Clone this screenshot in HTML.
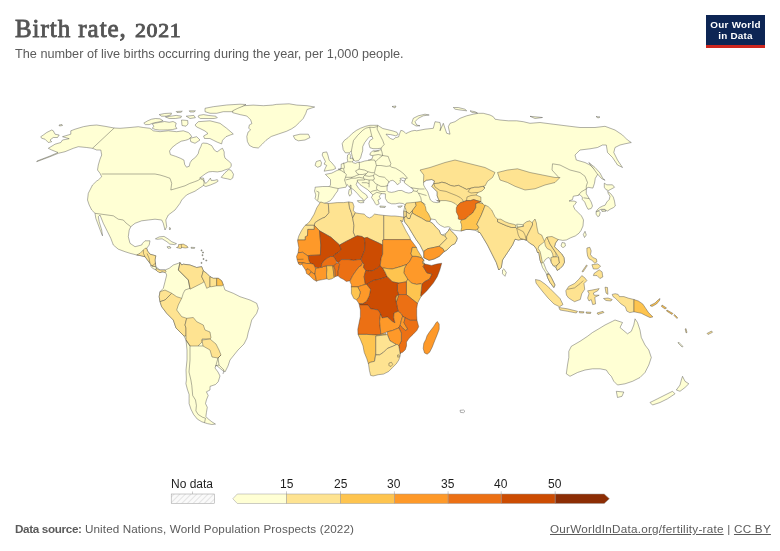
<!DOCTYPE html>
<html><head><meta charset="utf-8"><style>
html,body{margin:0;padding:0;background:#fff;width:780px;height:551px;overflow:hidden}
body{position:relative;font-family:"Liberation Sans",sans-serif}
.t,#logo{will-change:transform}
.t{position:absolute;white-space:nowrap;line-height:1}
svg{position:absolute;left:0;top:0}
#title{left:15px;top:16px;font-family:"Liberation Serif",serif;font-size:25px;color:#555;font-weight:normal;letter-spacing:0.95px;-webkit-text-stroke:0.85px #555}
#sub{left:15px;top:47.8px;font-size:12.7px;color:#5b5b5b}
#logo{position:absolute;left:706px;top:15px;width:59px;height:33px;background:#0d2554}
#logo .r{position:absolute;left:0;bottom:0;width:59px;height:3px;background:#ce261e}
#logo .l1,#logo .l2{position:absolute;width:59px;text-align:center;color:#fff;font-weight:bold;font-size:9.9px;line-height:1;letter-spacing:0.25px}
#logo .l1{top:4.6px}
#logo .l2{top:16.3px}
.lg{font-size:12px;color:#1e1e1e}
.ft{font-size:11.7px;color:#5b5b5b}
</style></head><body>
<div class="t" id="title">Birth rate, <span style="display:inline-block;font-size:18.5px;letter-spacing:0.6px;transform:scaleX(1.18);transform-origin:0 0;margin-left:0.5px">2021</span></div>
<div class="t" id="sub">The number of live births occurring during the year, per 1,000 people.</div>
<div id="logo"><div class="l1">Our World</div><div class="l2">in Data</div><div class="r"></div></div>
<svg width="780" height="551" viewBox="0 0 780 551">
<g fill="#ffffd4" stroke="#3a3a3a" stroke-width="0.4" stroke-linejoin="round">
<path d="M36.7,161.7 50.0,156.7 58.3,153.3 65.0,151.7 73.3,148.3 78.3,146.7 86.7,147.5 92.5,148.3 96.7,150.0 100.8,150.0 101.7,155.0 100.0,159.2 98.3,165.0 97.5,170.0 100.0,173.3 101.7,176.7 98.3,180.0 96.7,181.0 92.5,185.0 88.3,193.3 87.5,200.0 89.2,205.0 91.7,210.0 95.0,213.3 95.8,218.3 98.3,225.0 100.8,231.7 102.5,235.8 101.7,230.0 99.2,221.7 98.3,216.7 100.0,215.0 103.3,223.3 107.5,231.7 110.8,238.3 113.3,245.0 118.3,249.2 125.0,251.7 130.0,253.3 136.7,255.0 140.0,255.5 145.0,256.7 150.0,263.3 155.0,269.2 160.0,272.5 165.0,271.7 165.0,270.0 160.0,270.0 155.8,266.7 155.0,260.0 155.8,255.8 150.0,254.2 147.5,251.0 146.7,248.3 149.2,245.0 150.0,240.8 145.0,240.8 142.5,243.3 141.7,245.0 135.0,246.7 130.0,243.3 128.3,236.7 129.2,230.0 130.8,226.7 135.0,223.3 141.7,220.8 148.3,220.0 155.0,219.2 161.7,220.0 163.3,223.3 165.0,230.0 166.7,226.7 165.8,220.0 168.3,215.0 175.0,210.0 180.0,203.3 181.7,200.0 186.5,195.0 189.6,193.5 195.0,191.2 199.0,188.5 203.5,185.5 205.8,186.5 210.4,185.0 215.8,182.7 218.1,181.2 217.3,179.6 214.2,180.4 211.2,180.4 210.4,178.1 208.1,181.2 205.8,183.5 204.2,181.2 203.5,178.1 199.6,178.1 202.7,175.8 205.8,173.5 208.8,171.9 212.7,171.5 217.3,171.9 221.9,171.2 225.8,169.6 228.8,168.8 231.2,166.5 231.2,163.5 228.8,161.2 225.0,158.1 224.2,155.0 224.2,151.9 222.5,148.3 220.7,149.2 217.1,151.9 214.4,150.1 211.7,145.6 207.2,143.4 202.7,143.0 201.8,143.9 200.9,146.5 199.1,150.1 198.2,153.7 195.5,157.3 191.9,160.0 190.1,162.7 189.2,166.3 186.5,167.2 184.7,164.5 183.9,160.0 180.3,158.2 175.8,156.4 170.4,154.6 169.5,151.0 172.2,147.4 176.7,143.9 181.2,141.2 185.6,140.3 188.3,139.4 191.7,136.7 190.0,134.0 188.3,132.5 183.3,130.8 176.7,131.7 168.3,130.8 160.0,131.7 153.3,130.8 150.0,128.3 143.3,127.5 138.3,126.7 130.0,127.5 120.0,128.3 114.2,128.0 105.0,126.3 96.7,125.0 90.0,125.5 83.3,126.7 75.0,129.2 70.8,130.8 70.8,134.2 62.5,136.7 69.2,138.7 62.5,140.0 60.8,142.5 55.0,144.2 48.3,148.3 51.7,150.0 58.0,152.5 50.0,156.0 37.0,161.0Z"/>
<path d="M40.8,136.7 43.3,135.0 46.7,132.5 51.7,130.0 53.3,130.8 55.0,134.2 59.2,135.0 57.5,137.5 53.3,137.5 50.0,140.0 51.7,141.7 48.3,142.5 45.0,139.2 41.7,138.3Z"/>
<path d="M59.0,125.0 62.0,124.5 62.5,125.5 59.5,126.0Z"/>
<path d="M143.8,123.1 147.7,120.8 151.5,119.2 155.4,118.5 160.0,118.8 163.1,120.8 160.8,121.5 156.9,122.3 153.1,123.1 149.2,124.6 145.4,124.6Z"/>
<path d="M152.3,123.8 155.4,123.1 160.0,122.3 164.6,121.5 169.2,122.3 173.1,121.5 176.2,123.1 175.4,126.2 176.9,128.5 172.3,129.6 167.7,129.9 163.1,130.0 159.2,130.0 155.4,129.5 152.3,128.3 153.8,126.2Z"/>
<path d="M159.2,114.6 164.6,113.5 171.5,113.1 170.8,115.0 166.2,116.2 161.5,116.2Z"/>
<path d="M165.4,116.9 170.8,116.2 176.2,115.4 181.5,116.2 180.8,117.7 175.4,118.5 169.2,118.5Z"/>
<path d="M176.2,111.5 182.3,111.2 181.0,112.3 177.0,112.5Z"/>
<path d="M186.2,116.2 193.8,115.4 195.4,117.7 190.0,118.5Z"/>
<path d="M189.2,110.8 195.4,110.8 194.0,112.0 190.0,112.0Z"/>
<path d="M198.8,115.4 203.5,114.6 208.1,115.4 215.8,116.2 217.3,117.7 214.2,118.5 208.1,118.5 200.4,118.5 198.1,116.9Z"/>
<path d="M181.5,120.0 187.7,120.5 188.0,124.0 186.0,126.2 182.0,125.5Z"/>
<path d="M205.0,108.3 213.3,106.7 226.7,105.0 240.0,104.2 246.0,104.5 240.0,108.3 233.3,111.7 223.3,111.7 216.7,113.3 210.0,113.3 205.0,111.7Z"/>
<path d="M198.3,121.7 210.0,120.8 220.0,123.3 226.7,128.3 233.3,134.0 230.5,134.9 226.0,136.7 222.5,140.3 221.6,143.9 217.1,142.1 213.5,140.3 209.9,138.5 204.5,138.5 203.6,136.0 208.0,133.5 205.0,131.0 200.0,128.5 196.7,127.0 195.0,125.0Z"/>
<path d="M190.0,138.3 196.7,136.7 200.0,140.0 195.0,143.3 190.8,141.7Z"/>
<path d="M221.2,177.3 225.0,172.7 228.8,169.5 231.2,170.4 233.5,174.2 232.7,178.1 230.4,179.6 227.3,178.8 223.5,178.1Z"/>
<path d="M232.7,110.8 237.8,108.3 244.2,105.7 253.2,105.1 263.5,105.7 272.4,105.1 276.3,104.4 289.1,103.8 296.8,105.1 307.1,105.7 314.7,107.0 307.1,109.5 305.8,113.4 303.2,118.5 299.4,122.4 295.5,126.2 291.7,128.8 286.5,131.3 278.8,133.9 271.2,136.5 266.0,140.3 262.2,144.2 258.3,148.0 253.2,147.4 249.4,145.4 247.4,141.6 246.8,136.5 248.1,132.0 250.6,130.0 248.7,128.1 249.4,124.9 251.9,123.6 250.6,119.8 246.8,116.0 240.4,114.7 232.7,112.7Z"/>
<path d="M293.3,135.8 300.0,134.2 308.3,134.2 310.0,137.5 305.0,140.0 298.3,140.8 295.0,139.2Z"/>
<path d="M155.4,238.8 159.2,236.9 164.0,236.4 167.9,238.8 171.7,241.7 176.5,243.7 174.6,244.6 169.8,244.1 166.9,241.7 162.1,238.8 157.3,239.3Z"/>
<path d="M167.0,246.8 170.0,246.5 171.0,248.0 168.0,248.3Z"/>
<path d="M169.5,227.5 170.5,228.0 170.0,230.0 169.3,229.0Z"/>
<path d="M191.0,247.3 194.8,247.5 194.5,248.4 191.2,248.3Z"/>
<path d="M201.0,249.9 202.0,249.9 202.0,250.9 201.0,250.9Z"/>
<path d="M202.0,254.7 203.0,254.7 203.0,255.7 202.0,255.7Z"/>
<path d="M203.0,258.5 204.0,258.5 204.0,259.5 203.0,259.5Z"/>
<path d="M201.0,262.4 202.0,262.4 202.0,263.4 201.0,263.4Z"/>
<path d="M205.8,260.0 206.8,260.0 206.8,261.0 205.8,261.0Z"/>
<path d="M202.5,252.0 203.5,252.0 203.5,253.0 202.5,253.0Z"/>
<path d="M150.6,264.8 152.0,266.0 155.8,266.7 156.5,268.5 156.0,270.0 153.0,268.5 150.8,266.5Z"/>
<path d="M165.0,271.7 165.0,270.0 169.2,268.3 173.3,265.0 178.3,263.3 180.0,262.5 181.7,265.0 183.3,264.2 190.0,265.0 196.7,267.5 201.7,266.7 203.3,270.8 206.7,273.3 210.0,276.7 213.3,278.3 218.3,278.3 221.7,280.8 223.3,285.0 225.0,290.0 233.3,293.3 240.0,296.7 250.0,300.0 256.7,303.3 258.3,308.3 256.7,313.3 251.7,320.0 250.0,326.7 248.3,332.0 247.0,338.0 244.0,344.0 238.0,350.0 234.0,355.0 230.0,360.0 228.0,366.0 225.0,372.0 222.0,370.0 216.0,365.0 215.0,368.0 218.0,372.0 220.0,376.0 218.2,381.8 215.5,384.5 210.0,386.4 210.0,390.0 206.4,391.8 208.2,395.5 206.4,400.0 205.5,403.6 207.3,407.3 206.4,412.7 205.9,416.4 207.3,418.2 211.8,421.8 215.5,424.1 211.8,424.5 207.3,423.6 201.8,421.8 197.3,419.1 193.6,414.5 190.9,409.1 189.1,403.6 189.1,398.2 189.1,394.5 187.3,389.1 185.9,383.6 186.4,380.0 186.0,370.0 187.0,360.0 187.0,350.0 186.0,340.0 184.0,336.0 176.0,328.0 173.3,320.0 166.7,313.3 161.7,306.7 160.0,301.7 159.2,296.7 160.0,291.7 163.3,288.3 165.0,281.7 166.7,275.0Z"/>
<path d="M338.2,188.5 337.6,191.0 335.6,193.6 333.1,197.4 330.5,200.6 326.7,202.6 322.8,203.8 320.3,202.6 317.7,201.3 315.1,198.7 315.8,194.9 314.5,191.0 315.1,188.5 315.1,187.2 322.8,186.5 329.2,186.5 330.5,185.0 330.5,179.5 327.9,176.9 325.4,174.4 331.8,173.1 336.9,170.5 340.8,169.2 341.2,167.0 341.2,164.1 345.3,162.8 347.8,161.8 347.3,158.5 347.6,155.0 349.5,153.6 350.8,155.5 350.0,158.5 352.5,158.0 353.6,160.5 352.0,161.8 353.5,162.8 355.5,163.4 357.6,162.4 360.6,162.3 364.7,161.0 367.8,160.5 369.9,160.0 371.9,159.0 373.0,155.9 369.9,154.9 370.4,152.8 373.0,150.8 376.0,150.8 381.2,149.7 381.2,148.2 377.1,148.7 373.0,148.7 369.9,147.7 368.8,143.6 369.9,140.5 373.0,138.5 371.9,136.4 369.9,136.4 367.8,138.5 364.7,142.6 362.7,146.7 362.7,150.8 361.7,153.8 360.6,158.0 358.6,160.5 355.5,161.2 353.5,160.0 352.4,156.9 351.4,152.8 351.4,150.8 349.4,152.8 345.3,152.8 343.2,149.7 342.2,143.6 344.2,140.5 348.3,137.4 352.4,133.3 356.5,130.3 360.6,128.2 365.8,126.2 370.0,125.3 377.7,125.3 379.6,126.5 382.8,128.5 387.9,129.7 393.1,131.0 396.9,132.3 398.2,134.5 395.6,135.8 390.5,134.6 386.0,134.2 388.0,136.5 390.5,138.5 393.1,139.6 395.6,137.6 398.5,137.0 399.5,134.0 400.8,130.4 403.3,131.0 405.9,133.6 408.5,132.3 411.7,131.0 414.9,130.4 416.7,130.8 425.0,129.2 433.3,128.3 435.0,121.7 440.0,122.5 440.8,126.7 440.0,130.8 443.3,123.3 446.7,133.3 450.0,134.2 448.3,126.7 450.0,123.3 455.0,121.7 460.0,118.3 466.7,115.8 473.3,114.2 478.3,113.3 483.3,113.3 490.0,115.0 493.3,116.7 495.0,119.2 500.0,120.0 508.3,120.8 516.7,120.8 523.3,121.7 530.0,123.3 540.0,122.5 550.0,123.8 570.0,126.3 580.0,127.5 595.0,127.5 605.0,126.3 615.0,130.0 622.5,135.0 627.5,140.0 631.3,142.5 625.0,143.8 620.0,145.0 615.0,147.5 613.8,152.5 617.5,160.0 622.5,167.5 617.5,165.0 612.5,157.5 607.5,152.5 606.3,145.0 602.5,145.0 597.5,147.5 590.0,148.8 580.0,150.0 575.0,155.0 576.3,160.0 585.0,162.5 590.0,165.0 595.0,170.0 598.5,173.0 595.3,178.3 594.5,183.2 592.9,188.1 588.0,187.3 586.3,188.9 586.3,193.8 588.8,197.9 591.2,202.0 592.5,206.0 591.2,208.5 588.0,209.3 586.3,206.0 584.7,202.0 582.3,199.5 582.3,197.1 579.8,194.6 578.2,195.4 573.3,196.2 572.5,199.5 569.0,201.0 574.1,201.1 576.5,202.0 574.9,204.4 573.3,206.0 574.9,209.3 578.2,212.6 581.4,215.8 583.1,219.1 583.5,220.0 583.0,226.0 581.0,230.5 579.0,233.2 575.4,235.9 570.8,237.7 566.3,240.0 562.7,240.4 558.1,239.5 555.4,243.1 554.5,246.8 558.1,250.4 561.8,254.0 564.0,257.7 564.5,262.2 562.7,265.8 560.0,268.6 557.2,270.4 556.0,267.6 553.5,266.0 551.3,262.5 550.0,259.0 549.0,257.5 547.5,258.0 545.4,259.5 543.5,262.5 546.3,270.0 550.0,275.0 551.3,277.5 555.0,285.0 553.8,287.5 550.0,282.5 547.5,277.5 546.0,273.0 542.5,267.5 540.0,260.0 538.8,252.5 537.5,252.5 536.3,248.8 533.8,245.5 529.5,243.0 527.0,240.5 525.8,240.0 523.3,239.2 518.3,240.0 515.0,239.2 512.5,245.0 507.5,252.5 502.5,260.0 501.3,267.5 498.8,270.0 496.3,262.5 492.5,255.0 487.5,245.0 483.8,238.8 480.0,232.5 478.8,232.5 475.0,230.0 470.0,229.5 466.0,229.5 461.0,231.0 455.9,230.5 452.1,229.9 450.1,227.3 448.2,226.7 444.4,227.3 440.5,225.4 437.3,222.8 435.4,219.6 430.9,219.0 429.6,221.5 432.8,223.5 436.0,227.3 437.9,229.2 439.2,230.5 440.5,233.7 441.8,235.0 445.6,233.7 448.2,231.2 449.5,228.6 450.8,230.5 453.3,233.1 455.9,235.6 457.2,238.2 456.5,240.8 454.6,244.0 452.1,244.9 446.9,250.0 443.1,252.6 439.2,256.4 434.1,259.0 429.0,260.3 423.8,257.7 423.8,253.8 422.6,250.0 420.0,244.9 416.2,239.7 412.3,233.3 408.5,226.9 404.6,221.8 404.0,218.0 403.8,213.8 403.8,210.8 404.6,207.0 405.5,204.5 404.6,204.6 403.1,203.5 399.2,203.1 395.4,203.8 391.5,203.8 387.7,202.3 385.4,198.5 385.4,193.8 381.8,193.6 379.2,196.2 380.5,198.7 377.9,200.0 379.2,203.8 376.7,205.1 375.4,203.8 374.1,201.3 371.5,197.4 372.8,194.9 370.3,192.3 367.7,189.7 363.8,187.2 360.0,184.6 357.4,181.4 356.2,184.6 358.7,188.5 362.6,192.3 366.4,194.9 367.7,197.4 365.8,198.7 363.8,201.3 362.6,198.7 360.6,197.4 357.4,193.6 353.6,189.7 349.7,187.2 348.5,185.9 347.2,184.6 345.9,187.2 342.0,187.8Z"/>
<path d="M322.8,152.6 326.7,151.9 327.9,155.1 329.2,160.3 331.8,162.8 335.0,166.7 335.6,168.6 332.4,169.9 327.9,170.5 324.1,171.2 325.4,167.9 326.7,165.4 324.1,164.1 325.4,161.5 323.5,157.7 322.2,155.1Z"/>
<path d="M316.4,161.5 320.3,160.3 321.5,162.8 320.9,166.0 317.7,167.3 315.1,165.4 315.8,162.8Z"/>
<path d="M357.4,200.6 362.6,200.6 363.8,202.6 360.6,202.8 358.1,201.9Z"/>
<path d="M349.1,189.7 351.0,188.5 351.7,193.6 349.7,196.2 348.5,193.6Z"/>
<path d="M350.0,185.5 351.0,185.0 351.0,188.0 350.0,188.0Z"/>
<path d="M379.9,206.0 385.6,206.4 385.0,207.5 380.0,207.2Z"/>
<path d="M397.7,206.4 402.3,205.8 401.0,207.2 398.5,207.2Z"/>
<path d="M411.7,123.3 413.3,118.3 418.3,115.8 425.0,114.2 429.2,115.0 423.3,115.8 418.3,118.3 415.0,121.7 416.7,125.0 420.0,125.8 416.0,126.0Z"/>
<path d="M453.3,107.5 458.3,107.5 465.0,109.2 466.7,110.8 460.0,110.0 455.0,109.2Z"/>
<path d="M470.0,110.8 475.0,111.7 477.5,113.0 472.0,112.5Z"/>
<path d="M530.0,116.3 542.5,117.5 535.0,118.5Z"/>
<path d="M392.0,106.5 396.0,106.0 395.0,108.0Z"/>
<path d="M596.0,116.5 600.0,117.0 598.0,118.0Z"/>
<path d="M588.8,162.5 595.0,167.5 600.0,173.0 602.7,178.3 605.1,180.3 601.5,178.5 597.0,173.5 593.8,169.0Z"/>
<path d="M604.3,183.2 606.8,184.8 612.5,184.8 614.5,187.3 610.8,189.3 608.4,190.5 606.0,189.7 604.3,187.3Z"/>
<path d="M607.6,191.3 610.8,193.8 613.3,197.1 614.5,201.1 615.3,206.0 613.3,207.7 610.0,209.3 607.6,211.0 604.3,209.3 601.0,209.3 597.8,211.0 596.1,211.8 597.0,210.1 599.4,207.7 602.7,206.0 605.1,205.2 606.8,202.0 609.2,199.5 610.0,196.2 608.4,193.8Z"/>
<path d="M601.5,209.8 605.0,209.8 606.0,211.2 602.0,211.5Z"/>
<path d="M596.1,211.8 598.6,211.0 600.2,212.6 599.4,215.8 597.8,216.7 596.1,214.2Z"/>
<path d="M585.0,231.3 586.3,235.0 584.5,237.5 583.3,234.5Z"/>
<path d="M562.0,242.5 565.0,243.0 565.4,246.0 563.0,247.7 561.0,246.0Z"/>
<path d="M503.8,268.8 506.3,272.5 505.0,276.3 502.5,273.8 502.5,270.0Z"/>
<path d="M571.3,346.3 580.0,341.3 587.5,336.3 592.5,332.5 598.8,328.8 605.0,325.0 612.5,321.3 615.0,320.0 622.5,322.5 620.0,327.5 627.5,333.8 631.3,331.3 633.8,325.0 635.0,318.8 637.5,322.5 640.0,330.0 641.3,337.5 645.0,345.0 648.8,350.0 651.3,357.5 648.8,365.0 645.0,372.5 640.0,377.5 632.5,381.3 625.0,383.8 617.5,385.0 613.8,381.3 611.3,376.3 608.8,373.8 606.3,370.0 600.0,368.8 592.5,368.8 585.0,370.0 577.5,372.5 570.0,376.3 566.3,373.8 567.5,365.0 568.8,357.5 568.8,351.3Z"/>
<path d="M616.3,391.3 623.8,392.0 622.0,396.3 617.5,397.5Z"/>
<path d="M682.5,376.3 685.0,381.3 688.8,383.8 685.0,387.5 680.0,391.3 676.3,390.0 680.0,385.0 681.3,380.0Z"/>
<path d="M672.5,391.3 675.0,393.8 667.5,398.8 660.0,402.5 652.5,405.0 650.0,402.5 657.5,398.8 665.0,395.0Z"/>
<path d="M678.5,342.0 683.0,346.5 682.0,347.0 678.0,343.0Z"/>
</g>
<g fill="#fff" stroke="#3a3a3a" stroke-width="0.4" stroke-linejoin="round">
<path d="M387.1,186.0 388.3,182.8 390.3,180.9 392.8,180.3 395.4,182.2 397.3,184.7 399.2,183.5 400.5,182.2 399.9,180.3 401.8,179.6 404.4,180.3 404.4,182.8 406.9,184.7 410.1,187.0 412.7,188.6 413.3,190.5 412.0,192.4 408.8,193.1 405.6,192.4 401.8,190.5 398.6,190.5 394.7,191.8 391.5,192.4 388.3,191.8 387.1,190.5Z"/>
<path d="M400.0,178.5 403.0,177.8 405.5,179.0 404.8,181.0 402.0,180.5Z"/>
<path d="M423.6,182.3 426.3,180.2 431.8,179.5 434.5,180.9 433.8,183.6 431.8,186.3 434.5,189.1 437.2,191.8 437.2,195.9 438.6,199.3 439.9,202.0 437.2,202.7 433.1,202.0 430.4,200.0 429.0,195.9 427.7,191.8 425.0,187.7 423.6,185.0Z"/>
<path d="M460.0,410.3 463.5,410.0 465.0,411.3 463.5,412.7 460.5,412.4Z"/>
</g>
<g stroke="#3a3a3a" stroke-width="0.4" stroke-linejoin="round">
<path fill="#fee391" d="M178.5,244.6 183.3,244.1 187.1,246.1 188.1,247.5 185.2,248.0 182.3,247.5 180.4,248.5 176.5,247.5 178.5,246.5Z"/>
<path fill="#fee391" d="M136.7,255.0 140.0,253.3 143.3,250.0 145.0,248.3 146.7,248.3 147.5,251.0 150.0,254.2 155.8,255.8 155.0,260.0 155.8,266.7 152.0,266.0 150.0,263.3 145.0,256.7 140.0,255.5Z"/>
<path fill="#fee391" d="M156.3,268.0 158.0,269.5 160.0,270.0 165.0,270.0 166.0,271.5 165.0,272.5 162.0,271.5 160.0,272.8 157.5,271.5 156.0,270.0Z"/>
<path fill="#fee391" d="M180.0,262.5 181.7,265.0 183.3,264.2 190.0,265.0 196.7,267.5 201.7,266.7 203.3,270.8 201.7,276.7 204.2,281.7 201.7,283.3 195.0,286.7 190.0,289.2 188.3,280.0 183.3,275.0 178.3,270.0Z"/>
<path fill="#fee391" d="M203.3,270.8 206.7,273.3 210.0,276.7 210.0,286.7 206.7,288.3 204.2,281.7 201.7,276.7Z"/>
<path fill="#fee391" d="M210.0,276.7 213.3,278.3 216.7,278.3 216.7,285.8 211.7,286.7 210.0,286.7Z"/>
<path fill="#fec44f" d="M216.7,278.3 218.3,278.3 221.7,280.8 223.3,285.0 221.7,285.8 216.7,285.8Z"/>
<path fill="#fee391" d="M160.0,291.7 165.0,290.0 171.7,293.3 165.0,300.0 160.0,301.7 159.2,296.7Z"/>
<path fill="#fee391" d="M160.0,301.7 165.0,300.0 171.7,293.3 176.7,296.7 181.7,298.3 178.3,305.0 176.7,310.0 181.7,316.7 186.7,318.3 185.0,325.0 186.0,328.0 186.0,336.0 184.0,336.0 176.0,328.0 173.3,320.0 166.7,313.3 161.7,306.7Z"/>
<path fill="#fee391" d="M186.7,318.3 193.3,317.5 196.7,321.7 203.3,325.0 205.0,330.0 210.0,332.0 211.0,338.0 210.0,339.0 202.0,339.0 202.0,342.0 198.0,346.0 190.0,346.0 186.0,340.0 186.0,336.0 186.0,328.0 185.0,325.0Z"/>
<path fill="#fee391" d="M202.0,340.0 210.0,339.0 216.0,344.0 219.0,350.0 221.0,355.0 218.0,358.0 212.0,357.0 210.0,350.0 203.0,346.0Z"/>
<path fill="#fee391" d="M320.6,201.9 324.5,203.2 328.3,203.5 329.0,212.8 325.0,217.2 322.2,218.3 318.4,220.4 315.1,222.6 314.3,225.3 305.3,225.3 307.8,223.5 310.4,220.5 314.2,214.1 316.8,207.7Z"/>
<path fill="#fee391" d="M305.3,225.3 314.3,225.3 314.3,229.4 307.8,229.4 307.5,235.7 305.3,236.8 305.3,240.0 297.7,240.0 298.8,235.9 301.4,230.8 303.5,227.5Z"/>
<path fill="#fee391" d="M328.3,203.5 337.3,202.6 343.7,202.6 348.8,201.9 349.5,207.7 351.4,212.8 352.7,217.9 354.0,225.6 353.3,232.1 355.3,236.5 350.1,239.7 346.5,241.2 339.6,245.0 330.9,237.2 319.5,230.8 314.3,225.3 315.1,222.6 318.4,220.4 322.2,218.3 325.0,217.2 329.0,212.8Z"/>
<path fill="#fee391" d="M348.8,201.9 352.7,202.6 354.0,206.4 353.3,210.3 355.3,212.8 352.7,217.9 351.4,212.8 349.5,207.7Z"/>
<path fill="#fee391" d="M355.3,212.8 359.1,213.5 364.2,214.1 366.8,216.7 369.4,217.9 371.9,216.7 374.5,214.1 378.3,214.7 383.8,215.4 383.8,232.0 383.8,239.6 382.7,240.0 382.7,245.0 378.1,242.7 369.6,238.8 364.2,238.1 361.9,236.5 357.3,235.8 355.3,236.5 353.3,232.1 354.0,225.6 352.7,217.9Z"/>
<path fill="#fee391" d="M383.8,215.4 391.2,216.0 395.0,216.0 399.5,216.5 403.8,217.2 402.5,222.0 400.5,220.0 403.3,225.6 405.9,230.8 409.7,237.2 410.5,239.6 395.0,239.6 383.8,239.6 383.8,232.0Z"/>
<path fill="#fe9929" d="M297.7,240.0 305.3,240.0 305.3,236.8 307.5,235.7 307.8,229.4 314.3,229.4 314.3,225.3 319.5,230.8 320.8,245.0 320.4,255.0 310.4,255.4 308.1,255.8 306.5,255.0 302.7,252.3 298.1,252.7 298.8,247.4 297.6,241.0Z"/>
<path fill="#cc4c02" d="M319.5,230.8 330.9,237.2 339.6,245.0 341.2,249.6 338.1,252.7 335.0,254.2 333.5,256.5 330.4,256.5 327.3,258.1 324.2,260.4 321.9,263.5 321.2,267.3 318.1,268.1 315.0,267.3 313.5,264.2 310.4,263.5 308.8,260.4 308.1,255.8 310.4,255.4 320.4,255.0 320.8,245.0Z"/>
<path fill="#cc4c02" d="M339.6,245.0 346.5,241.2 352.7,238.1 357.3,235.8 361.9,236.5 364.2,238.1 365.0,242.7 364.6,250.4 362.7,255.0 361.2,258.8 361.2,259.6 358.1,259.6 353.5,260.4 348.8,259.6 344.2,259.6 341.2,259.6 339.6,261.5 338.1,262.7 336.5,261.2 335.0,258.8 333.5,256.5 335.0,254.2 338.1,252.7 341.2,249.6Z"/>
<path fill="#fe9929" d="M298.1,252.7 302.7,252.3 306.5,255.0 308.1,255.8 308.8,260.4 310.4,263.5 306.5,263.5 302.7,262.7 298.1,262.7 297.3,260.4 296.5,256.5Z"/>
<path fill="#fe9929" d="M298.1,262.7 302.7,262.7 301.9,264.2 300.4,265.0 298.8,264.2Z"/>
<path fill="#fe9929" d="M302.7,262.7 306.5,263.5 310.4,263.5 313.5,264.2 315.0,267.3 315.8,268.1 315.4,270.4 315.0,274.2 313.5,273.5 311.2,271.9 309.6,270.4 308.1,268.8 305.8,270.4 304.2,268.1 302.7,265.8 301.9,264.2Z"/>
<path fill="#fe9929" d="M305.8,270.4 308.1,268.8 309.6,270.4 311.2,271.9 308.8,275.0 306.5,273.5Z"/>
<path fill="#fe9929" d="M311.2,271.9 313.5,273.5 315.0,274.2 315.8,277.3 316.5,281.2 313.5,279.6 310.4,276.5 308.8,275.0Z"/>
<path fill="#fe9929" d="M315.8,268.1 318.1,268.1 321.2,267.3 321.9,267.3 323.5,266.5 326.5,265.8 326.9,269.6 326.5,274.2 326.9,278.8 322.7,279.6 318.1,280.4 316.5,281.2 315.8,277.3 315.0,274.2 315.4,270.4Z"/>
<path fill="#ec7014" d="M321.9,263.5 324.2,260.4 327.3,258.1 330.4,256.5 333.5,256.5 335.0,258.8 336.5,261.2 336.5,263.5 333.8,265.8 332.7,265.8 326.5,265.8 323.5,266.5 321.9,267.3 321.2,267.3Z"/>
<path fill="#fec44f" d="M326.5,265.8 332.7,265.8 333.1,268.1 333.5,271.9 334.2,277.3 331.9,278.8 328.8,279.6 326.9,278.8 326.5,274.2 326.9,269.6Z"/>
<path fill="#fe9929" d="M332.7,265.8 333.8,265.8 335.0,269.6 335.4,276.5 334.2,277.3 333.5,271.9 333.1,268.1Z"/>
<path fill="#ec7014" d="M333.8,265.8 336.5,263.5 338.1,262.7 339.6,264.2 338.8,268.1 338.1,271.2 338.1,275.8 335.4,276.5 335.0,269.6Z"/>
<path fill="#ec7014" d="M338.1,262.7 339.6,261.5 341.2,259.6 344.2,259.6 348.8,259.6 353.5,260.4 358.1,259.6 361.2,259.6 362.7,262.7 361.2,265.8 359.1,266.7 355.3,271.8 352.7,275.6 350.1,280.8 346.3,281.4 343.7,279.5 339.9,277.6 338.1,275.8 338.1,271.2 338.8,268.1 339.6,264.2Z"/>
<path fill="#fe9929" d="M362.7,262.7 364.2,264.2 363.5,267.3 365.8,270.4 364.1,276.7 365.4,284.4 361.5,285.6 357.7,286.9 351.3,286.9 351.4,284.6 350.1,282.1 350.1,280.8 352.7,275.6 355.3,271.8 359.1,266.7 361.2,265.8Z"/>
<path fill="#cc4c02" d="M364.2,238.1 367.3,237.3 369.6,238.8 378.1,242.7 382.7,245.0 382.7,254.2 381.2,258.1 380.4,264.2 380.4,265.8 377.3,268.1 373.5,270.4 369.6,271.2 365.8,270.4 363.5,267.3 364.2,264.2 362.7,262.7 361.2,259.6 361.2,258.8 362.7,255.0 364.6,250.4 365.0,242.7Z"/>
<path fill="#cc4c02" d="M365.8,270.4 369.6,271.2 373.5,270.4 377.3,268.1 380.4,265.8 382.7,268.1 385.0,271.9 387.2,276.7 379.5,279.2 373.1,280.5 366.7,284.4 365.4,284.4 364.1,276.7Z"/>
<path fill="#fe9929" d="M383.8,239.6 395.0,239.6 410.5,239.6 413.6,243.6 416.5,247.5 412.3,247.4 411.0,253.8 412.3,256.4 409.7,261.5 406.5,264.5 401.3,266.4 392.3,269.0 388.8,268.8 384.2,268.1 382.7,268.1 380.4,265.8 380.4,264.2 381.2,258.1 382.7,254.2 382.7,245.0 382.7,240.0Z"/>
<path fill="#fec44f" d="M416.5,247.5 417.4,250.0 420.6,255.1 423.8,260.3 421.3,257.7 416.2,256.4 412.3,256.4 411.0,253.8 412.3,247.4Z"/>
<path fill="#fee391" d="M423.8,260.3 423.8,262.8 425.0,264.0 423.0,264.0 422.5,261.5Z"/>
<path fill="#fe9929" d="M412.3,256.4 416.2,256.4 421.3,257.7 423.8,260.3 422.5,261.5 423.0,264.0 425.0,264.0 423.1,266.4 426.9,272.8 432.1,274.1 429.5,279.2 424.4,281.8 421.8,284.4 421.2,283.7 416.7,284.4 411.5,283.1 407.7,279.2 403.8,272.8 404.5,268.0 406.5,264.5 409.7,261.5Z"/>
<path fill="#cc4c02" d="M425.0,264.0 431.5,265.4 436.7,264.1 441.7,263.2 439.7,270.3 437.2,276.7 433.3,283.1 426.9,290.8 421.0,296.5 420.5,295.9 421.2,290.8 421.8,284.4 424.4,281.8 429.5,279.2 432.1,274.1 426.9,272.8 423.1,266.4Z"/>
<path fill="#fec44f" d="M382.7,268.1 384.2,268.1 388.8,268.8 392.3,269.0 401.3,266.4 406.5,264.5 404.5,268.0 403.8,272.8 407.7,279.2 406.4,281.8 398.7,283.1 392.3,281.8 387.2,276.7 385.0,271.9Z"/>
<path fill="#fec44f" d="M406.4,281.8 407.7,279.2 411.5,283.1 416.7,284.4 421.2,283.7 421.8,284.4 421.2,290.8 420.5,295.9 421.0,296.5 418.0,302.3 417.5,303.5 406.4,294.6Z"/>
<path fill="#ec7014" d="M398.7,283.1 406.4,281.8 406.4,294.6 398.7,294.6 397.4,290.8 397.4,284.4Z"/>
<path fill="#ec7014" d="M398.7,294.6 406.4,294.6 417.5,303.5 416.7,308.7 416.7,315.1 417.0,320.3 410.3,320.3 405.1,317.7 402.6,316.4 401.3,313.8 398.1,311.3 396.2,302.3Z"/>
<path fill="#fec44f" d="M396.2,295.9 398.7,294.6 396.2,302.3 395.6,299.0Z"/>
<path fill="#cc4c02" d="M366.7,284.4 373.1,280.5 379.5,279.2 387.2,276.7 392.3,281.8 398.7,283.1 397.4,284.4 397.4,290.8 398.7,294.6 396.2,295.9 395.6,299.0 396.2,302.3 398.1,311.3 394.0,313.0 393.7,317.7 395.0,322.8 392.4,321.5 387.3,317.0 382.1,318.0 380.5,314.0 378.2,310.0 370.5,308.7 367.9,304.9 360.3,304.9 359.0,303.6 362.8,303.6 366.7,301.0 369.2,295.9 370.5,289.5Z"/>
<path fill="#fe9929" d="M357.7,286.9 361.5,285.6 365.4,284.4 366.7,284.4 370.5,289.5 369.2,295.9 366.7,301.0 362.8,303.6 359.0,303.6 356.4,299.7 359.0,297.2 360.3,292.0Z"/>
<path fill="#fec44f" d="M351.3,286.9 357.7,286.9 360.3,292.0 359.0,297.2 356.4,299.7 353.8,298.5 351.4,293.6 351.4,288.5Z"/>
<path fill="#ec7014" d="M359.0,303.6 360.3,304.9 367.9,304.9 370.5,308.7 378.2,310.0 380.5,314.0 379.6,321.5 380.9,334.4 375.8,335.0 366.8,334.4 358.0,334.4 357.8,329.2 359.1,322.8 360.4,316.4 360.4,310.0 359.5,306.0Z"/>
<path fill="#fe9929" d="M380.5,314.0 382.1,318.0 387.3,317.0 392.4,321.5 395.0,322.8 393.7,317.7 394.0,313.0 398.1,311.3 401.3,313.8 402.6,316.4 401.4,320.3 400.1,325.4 398.8,327.9 392.4,330.5 387.3,331.8 380.9,334.4 379.6,321.5Z"/>
<path fill="#fe9929" d="M402.6,316.4 405.1,317.7 404.0,322.8 407.8,329.2 405.3,330.5 402.7,327.9 400.1,325.4 401.4,320.3Z"/>
<path fill="#ec7014" d="M405.1,317.7 410.3,320.3 417.0,320.3 418.7,326.7 416.8,330.5 413.0,334.4 409.1,338.2 406.5,342.1 406.5,345.9 405.3,349.7 402.7,352.3 400.5,353.0 400.1,353.6 398.8,345.9 401.4,340.8 401.4,333.1 398.8,327.9 400.1,325.4 402.7,327.9 405.3,330.5 407.8,329.2 404.0,322.8Z"/>
<path fill="#fe9929" d="M387.3,331.8 392.4,330.5 398.8,327.9 401.4,333.1 401.4,340.8 398.8,345.9 397.6,344.6 396.3,344.6 389.9,340.8 387.3,334.4Z"/>
<path fill="#fec44f" d="M358.0,334.4 366.8,334.4 375.8,335.0 380.9,334.4 386.0,333.5 386.0,334.8 375.8,336.0 375.8,352.3 374.5,361.3 369.4,362.6 368.5,364.0 366.8,358.7 364.2,352.3 363.0,345.9 360.4,339.5Z"/>
<path fill="#fee391" d="M375.8,336.0 386.0,334.8 387.3,334.4 389.9,340.8 396.3,344.6 393.7,345.9 387.3,348.5 383.5,352.3 379.6,354.9 375.8,354.9 375.8,352.3Z"/>
<path fill="#fee391" d="M368.5,364.0 369.4,362.6 374.5,361.3 375.8,354.9 379.6,354.9 383.5,352.3 387.3,348.5 393.7,345.9 396.3,344.6 397.6,344.6 398.8,345.9 400.1,353.6 400.5,353.0 400.1,356.2 398.8,360.0 396.3,363.8 392.4,367.7 388.6,371.5 383.5,374.1 378.3,374.7 373.2,376.0 370.6,375.4 369.4,370.3Z"/>
<path fill="#fe9929" d="M437.3,321.5 439.2,324.1 439.2,329.2 437.3,334.4 434.7,340.8 432.2,347.2 429.6,352.3 427.1,354.2 424.5,352.9 423.2,348.5 423.8,343.3 425.8,339.5 427.1,335.6 429.6,331.8 433.5,326.7 436.0,322.8Z"/>
<path fill="#fee391" d="M389.0,363.0 391.5,362.3 392.7,364.5 391.0,366.5 388.8,365.5Z"/>
<path fill="#fee391" d="M397.5,355.0 399.2,354.8 399.3,357.0 397.7,357.2Z"/>
<path fill="#fee391" d="M405.5,204.5 406.2,203.1 410.8,202.7 415.4,202.3 416.2,205.4 412.3,210.8 409.2,213.8 406.2,211.5 405.4,207.7 404.6,207.0Z"/>
<path fill="#fec44f" d="M415.4,202.3 420.8,201.5 423.8,203.8 425.5,206.9 426.2,210.8 428.5,213.8 430.9,219.0 429.6,221.5 426.5,221.2 421.4,218.1 416.3,215.5 412.3,213.0 412.3,210.8 416.2,205.4Z"/>
<path fill="#fee391" d="M406.2,211.5 409.2,213.8 412.3,210.8 412.3,213.0 410.8,215.4 410.0,218.5 407.7,218.5 406.2,216.2Z"/>
<path fill="#fee391" d="M403.8,210.8 405.4,211.5 406.2,211.5 406.2,216.2 404.6,216.9 404.0,218.0 403.8,213.8Z"/>
<path fill="#fee391" d="M407.7,218.5 410.0,218.5 410.8,215.4 412.3,213.0 416.3,215.5 421.4,218.1 426.5,221.2 429.6,221.5 432.8,223.5 436.0,227.3 437.9,229.2 439.2,230.5 440.5,233.7 441.8,235.0 445.0,236.0 446.9,238.5 439.2,246.2 434.1,247.4 427.7,248.7 423.8,251.3 422.6,250.0 420.0,244.9 416.2,239.7 412.3,233.3 408.5,226.9 404.6,221.8 404.0,218.0 406.2,216.2Z"/>
<path fill="#fe9929" d="M423.8,251.3 427.7,248.7 434.1,247.4 439.2,246.2 443.1,248.7 444.4,251.3 443.1,252.6 439.2,256.4 434.1,259.0 429.0,260.3 423.8,257.7 423.8,253.8Z"/>
<path fill="#fee391" d="M439.2,246.2 446.9,238.5 445.0,236.0 445.6,233.7 448.2,231.2 449.5,228.6 450.8,230.5 453.3,233.1 455.9,235.6 457.2,238.2 456.5,240.8 454.6,244.0 452.1,244.9 446.9,250.0 444.4,251.3 443.1,248.7Z"/>
<path fill="#fee391" d="M423.5,181.0 423.8,175.0 420.0,170.0 430.0,167.5 445.0,162.5 455.0,160.0 465.0,162.5 475.0,165.0 485.0,167.5 495.0,172.5 492.5,177.5 487.5,181.3 485.0,186.0 483.0,186.3 478.8,187.3 474.7,187.3 470.6,188.3 466.5,189.4 462.4,187.3 458.3,185.3 454.2,186.3 450.1,185.3 446.0,183.2 441.9,182.2 438.8,183.2 433.8,183.6 434.5,180.9 431.8,179.5 426.3,180.2 423.6,182.3Z"/>
<path fill="#fee391" d="M433.8,183.6 438.8,183.2 441.9,182.2 446.0,183.2 450.1,185.3 454.2,186.3 458.3,185.3 462.4,187.3 466.5,189.4 470.6,188.3 474.7,187.3 478.8,187.3 483.0,186.3 485.0,188.0 482.0,191.0 478.0,192.5 476.0,195.0 480.9,197.0 480.9,201.7 476.8,200.6 473.7,199.6 470.6,200.6 466.5,200.6 463.5,201.7 460.4,202.7 457.3,205.8 455.3,203.7 451.2,201.7 446.0,200.6 440.9,200.6 436.8,200.6 439.9,202.0 438.6,199.3 437.2,195.9 437.2,191.8 434.5,189.1 431.8,186.3Z"/>
<path fill="#ec7014" d="M457.3,205.8 460.4,202.7 463.5,201.7 466.5,200.6 470.6,200.6 473.7,199.6 476.8,200.6 480.9,201.7 478.8,202.7 475.8,203.7 475.8,207.8 472.7,213.0 468.6,216.0 465.5,219.1 461.4,220.1 458.3,219.1 458.3,216.0 456.3,211.9 456.3,207.8Z"/>
<path fill="#fec44f" d="M475.8,203.7 478.8,202.7 483.0,203.7 485.0,205.8 483.0,210.9 480.9,216.0 478.8,220.1 476.8,224.2 478.8,227.3 477.5,229.5 475.0,230.0 470.0,229.5 466.0,229.5 461.0,231.0 461.7,227.3 461.4,224.1 460.4,222.0 461.4,220.1 465.5,219.1 468.6,216.0 472.7,213.0 475.8,207.8Z"/>
<path fill="#fee391" d="M477.5,229.5 478.8,227.3 476.8,224.2 478.8,220.1 480.9,216.0 483.0,210.9 485.0,205.8 485.0,205.0 488.3,206.7 491.7,210.0 493.3,213.3 495.0,216.7 497.5,219.2 497.5,221.7 500.8,223.3 506.7,225.8 511.7,227.5 515.8,227.5 516.7,228.3 517.5,227.1 523.3,226.3 523.3,224.2 526.7,221.7 530.0,220.8 532.5,223.3 532.5,225.0 531.7,226.7 530.0,230.0 528.3,233.3 526.7,236.7 526.7,240.0 525.8,240.0 523.3,239.2 518.3,240.0 515.0,239.2 512.5,245.0 507.5,252.5 502.5,260.0 501.3,267.5 498.8,270.0 496.3,262.5 492.5,255.0 487.5,245.0 483.8,238.8 480.0,232.5 478.8,232.5Z"/>
<path fill="#fee391" d="M497.5,219.2 500.8,219.2 505.0,221.7 509.2,223.3 513.3,224.2 515.8,225.0 515.8,227.5 511.7,227.5 506.7,225.8 500.8,223.3 497.5,221.7Z"/>
<path fill="#fee391" d="M516.7,228.3 520.0,230.0 523.3,231.7 525.0,235.0 525.8,238.3 525.8,240.0 523.3,239.2 520.0,238.3 518.3,235.0 517.5,231.7Z"/>
<path fill="#fee391" d="M531.7,226.7 532.5,225.0 532.5,222.0 535.0,219.0 536.4,223.0 536.7,225.8 537.5,230.0 538.3,233.3 541.7,235.0 543.6,239.5 544.5,241.3 542.7,243.1 539.0,245.9 538.2,248.6 540.0,251.3 540.9,255.0 541.8,259.5 542.5,263.0 541.0,263.0 540.0,260.0 538.8,252.5 537.5,252.5 536.3,248.8 533.8,245.5 529.5,243.0 527.0,240.5 526.7,240.0 526.7,236.7 528.3,233.3 530.0,230.0Z"/>
<path fill="#fee391" d="M544.5,241.3 546.0,238.0 547.0,237.0 548.5,240.5 550.0,244.0 553.0,248.5 556.0,253.0 556.3,256.8 553.0,257.0 552.7,254.0 550.9,250.4 547.2,248.6 545.4,245.9Z"/>
<path fill="#fee391" d="M550.9,257.5 553.0,257.0 556.3,256.8 558.5,257.0 559.5,263.0 557.0,265.0 556.0,266.0 553.5,266.0 551.3,262.5Z"/>
<path fill="#fee391" d="M547.0,237.0 552.0,236.5 558.1,239.5 555.4,243.1 554.5,246.8 558.1,250.4 561.8,254.0 564.0,257.7 564.5,262.2 562.7,265.8 560.0,268.6 557.2,270.4 556.0,267.6 557.0,265.0 559.5,263.0 558.5,257.0 556.0,253.0 553.0,248.5 550.0,244.0 548.5,240.5Z"/>
<path fill="#fee391" d="M549.0,274.0 551.3,277.5 555.0,285.0 553.8,287.5 550.0,282.5 547.5,277.5 547.0,274.0Z"/>
<path fill="#fee391" d="M497.5,172.5 507.5,170.0 517.5,168.8 530.0,172.5 542.5,175.0 555.0,177.5 560.0,177.5 555.0,182.5 545.0,185.0 535.0,188.8 525.0,190.0 515.0,186.3 507.5,182.5 500.0,180.0Z"/>
<path fill="#fee391" d="M535.5,279.5 540.0,280.5 545.0,284.0 550.0,288.5 555.0,293.5 560.0,298.5 563.0,304.5 559.5,306.8 554.0,304.0 548.0,298.0 543.0,292.0 539.0,287.0 536.0,283.0Z"/>
<path fill="#fee391" d="M558.8,307.5 567.5,308.8 577.5,311.3 576.3,313.0 567.5,311.3 560.0,310.0Z"/>
<path fill="#fee391" d="M565.8,290.8 568.7,286.4 574.5,283.5 578.9,279.2 581.8,275.6 584.7,277.7 586.9,280.6 584.0,283.5 584.7,289.3 581.8,293.7 580.3,299.5 574.5,301.7 568.7,298.1 566.5,295.2Z"/>
<path fill="#fee391" d="M587.6,290.8 591.9,290.1 599.2,288.6 597.7,290.8 593.4,293.0 594.1,295.2 599.2,295.2 594.8,297.3 595.6,303.9 592.7,304.6 591.2,299.5 589.0,301.0 587.6,298.1 589.0,293.7Z"/>
<path fill="#fee391" d="M586.9,248.0 589.8,247.3 591.2,250.9 590.5,254.5 592.7,257.4 596.3,258.9 597.0,261.8 594.8,263.2 591.9,260.3 589.0,258.9 587.6,256.0 586.9,251.6Z"/>
<path fill="#fee391" d="M594.1,273.4 599.2,269.8 602.1,271.9 602.8,277.0 599.9,278.5 597.0,275.6 593.4,275.6Z"/>
<path fill="#fee391" d="M591.9,264.7 597.7,263.9 600.6,266.1 597.7,269.0 593.4,269.0Z"/>
<path fill="#fee391" d="M582.0,271.5 586.5,265.0 587.3,265.6 583.0,272.0Z"/>
<path fill="#fee391" d="M579.0,311.5 584.0,311.8 583.5,313.0 579.5,312.8Z"/>
<path fill="#fee391" d="M586.0,312.0 591.0,312.3 590.5,313.5 586.5,313.3Z"/>
<path fill="#fee391" d="M597.0,313.0 603.0,311.3 604.0,312.5 598.0,314.5Z"/>
<path fill="#fee391" d="M605.0,287.2 607.5,287.5 607.9,294.4 606.0,293.0 605.5,290.0Z"/>
<path fill="#fee391" d="M612.2,294.4 615.2,293.7 618.1,294.4 619.5,296.6 623.9,296.6 628.2,298.1 634.0,299.5 634.0,311.8 629.7,312.6 626.8,311.1 625.3,306.8 621.0,303.9 618.1,301.0 615.2,298.1 613.0,296.6Z"/>
<path fill="#fec44f" d="M634.0,299.5 638.4,301.0 642.7,303.9 645.6,308.2 648.5,312.6 652.9,316.9 650.0,317.6 645.6,315.5 641.3,313.3 634.0,311.8Z"/>
<path fill="#fec44f" d="M650.0,305.5 655.0,303.0 658.0,300.0 660.0,298.5 659.5,300.5 656.5,304.0 652.0,306.5Z"/>
<path fill="#fec44f" d="M662.0,305.0 666.5,308.0 665.0,309.0 661.5,306.5Z"/>
<path fill="#fec44f" d="M667.0,310.0 673.0,313.5 672.0,314.5 666.5,311.0Z"/>
<path fill="#fec44f" d="M674.5,314.5 677.5,317.5 677.0,318.5 674.0,315.5Z"/>
<path fill="#fee391" d="M686.0,328.5 687.0,332.5 686.0,332.8 685.2,329.0Z"/>
<path fill="#fee391" d="M707.0,333.5 711.5,331.0 712.5,332.3 708.0,334.5Z"/>
<path fill="#fee391" d="M603.5,298.5 608.0,298.0 612.2,299.5 611.0,301.0 606.0,300.5Z"/>
<path fill="#ffffd4" d="M516.7,224.2 522.5,224.6 523.3,226.3 517.5,227.1Z"/>
</g>
<g fill="none" stroke="#3a3a3a" stroke-width="0.4" stroke-linejoin="round">
<path d="M181.3,244.3 181.5,248.0"/>
<path d="M143.3,250.0 143.5,253.5 145.0,256.7"/>
<path d="M147.0,253.5 149.0,258.0 150.0,263.3"/>
<path d="M152.0,266.0 155.8,263.0"/>
<path d="M92.5,148.3 114.2,128.0"/>
<path d="M101.7,174.0 155.0,174.0 160.0,175.0 165.0,176.5 170.0,178.3 171.7,183.3 170.8,190.0 176.7,188.3 185.0,185.8 189.6,183.5 194.2,181.9 198.1,180.4 200.4,178.8 203.5,180.0 204.2,183.0 203.5,185.5"/>
<path d="M95.0,213.3 113.3,215.8 118.3,219.2 123.3,220.0 126.0,223.0 130.8,226.7"/>
<path d="M180.0,262.5 178.3,270.0 183.3,275.0 188.3,280.0 190.0,288.3 185.0,290.0 183.3,293.3 181.7,298.3"/>
<path d="M186.0,340.0 190.0,346.0 190.0,360.0 189.0,372.0 190.9,380.0 191.8,385.5 192.7,395.5 195.5,400.0 196.4,405.5 195.9,410.9 198.2,414.5 202.7,417.3 205.5,418.2"/>
<path d="M205.5,418.2 204.5,422.7"/>
<path d="M198.0,346.0 202.0,346.0 203.0,346.0"/>
<path d="M218.0,358.0 216.0,365.0"/>
<path d="M215.0,366.0 219.0,365.0 224.0,370.0 223.0,374.0"/>
<path d="M219.0,365.0 218.0,358.0 221.0,355.0"/>
<path d="M329.2,186.5 333.0,187.5 338.2,188.5"/>
<path d="M316.4,191.0 319.0,192.3 318.3,197.4 317.7,200.6"/>
<path d="M338.2,169.1 341.8,170.9 344.5,172.7 346.4,174.5 345.5,177.3 344.5,180.0 345.5,182.7 346.4,185.5"/>
<path d="M343.6,162.7 344.5,167.3 343.6,169.1"/>
<path d="M338.2,169.1 343.6,168.2"/>
<path d="M343.6,169.1 344.5,172.7"/>
<path d="M348.2,161.8 351.8,161.8"/>
<path d="M359.1,161.8 359.5,165.5 359.1,169.1"/>
<path d="M355.5,170.9 357.3,173.6 359.1,174.5"/>
<path d="M355.5,170.9 359.1,169.1 364.5,170.0 368.2,171.8"/>
<path d="M359.1,174.5 356.4,175.5 354.5,176.4 351.8,177.3 348.2,177.3 345.5,177.3"/>
<path d="M359.1,174.5 362.7,174.5 366.4,173.6 368.2,171.8"/>
<path d="M368.2,171.8 371.8,172.7 374.5,172.7"/>
<path d="M364.5,175.5 369.1,176.4 373.6,175.5 374.5,173.6"/>
<path d="M366.4,173.6 364.5,175.5 363.6,176.4 363.6,178.2"/>
<path d="M345.5,180.0 349.1,179.1 351.8,178.2 355.5,178.2 359.1,177.3 363.6,178.2"/>
<path d="M351.8,177.3 351.8,178.2"/>
<path d="M357.4,181.4 357.3,180.0 360.9,180.0 364.5,180.0 364.5,179.1 369.1,180.0 372.7,180.0"/>
<path d="M363.6,178.2 364.5,179.1"/>
<path d="M361.8,182.7 366.4,182.7 369.1,183.6 369.1,187.3"/>
<path d="M369.1,180.0 369.1,183.6"/>
<path d="M373.6,175.5 373.6,176.4 374.5,179.1 372.7,180.0 375.5,183.6 377.3,184.5"/>
<path d="M377.3,184.5 380.9,186.4 384.5,186.4 388.2,185.5"/>
<path d="M377.3,184.5 376.4,188.2 377.3,190.0 372.8,191.0 370.3,192.3"/>
<path d="M377.3,190.0 380.0,191.5 385.6,191.5"/>
<path d="M372.8,194.9 376.7,192.3 381.8,193.6"/>
<path d="M374.5,173.6 379.1,176.4 384.5,177.3 386.4,179.1 388.2,180.9 389.1,182.7"/>
<path d="M374.5,172.7 375.5,168.2 376.4,165.5 375.5,161.8 374.5,160.0 368.2,160.0"/>
<path d="M376.4,165.5 380.9,165.5 386.4,166.4 390.0,165.9 391.8,167.3 395.5,168.2 400.0,170.9 404.0,174.0 407.4,178.2 404.9,178.8"/>
<path d="M390.0,165.9 390.9,163.6 389.1,159.1 388.2,156.4"/>
<path d="M375.5,161.8 379.1,158.2 382.7,155.5 388.2,156.4"/>
<path d="M372.7,155.5 378.2,154.5 382.7,155.5"/>
<path d="M373.6,151.8 379.1,150.9"/>
<path d="M381.2,149.7 382.0,152.0 382.7,155.5"/>
<path d="M351.4,150.8 352.4,145.6 353.5,140.5 357.6,135.4 362.7,130.3 365.8,128.2 369.9,127.2"/>
<path d="M371.9,136.4 370.9,132.3 369.9,128.2 369.9,127.2 374.0,127.5 377.4,126.5"/>
<path d="M377.7,125.3 377.1,129.1 379.6,134.2 382.8,140.6 384.2,144.5 382.2,146.7 381.2,148.2"/>
<path d="M297.3,259.4 303.5,259.2"/>
<path d="M558.8,177.5 552.0,170.0 552.5,163.8 560.0,165.0 570.0,170.0 580.0,172.5 585.0,176.3 587.5,182.5 586.3,186.0 586.3,188.9"/>
<path d="M578.2,195.4 581.0,192.0 586.3,188.9"/>
<path d="M583.5,197.8 589.2,198.6"/>
<path d="M483.0,186.3 485.0,188.0"/>
<path d="M480.9,201.7 483.0,203.7"/>
<path d="M421.5,201.5 420.8,197.7 419.2,194.6 418.5,193.1"/>
<path d="M413.1,190.8 416.9,191.5 418.5,193.1 423.0,194.5 426.5,195.5"/>
<path d="M410.8,187.7 415.0,188.3 420.0,189.0 424.5,189.0"/>
<path d="M416.9,191.5 418.0,189.5"/>
<path d="M421.4,201.7 425.5,204.7"/>
<path d="M436.8,200.6 435.8,199.6"/>
<path d="M439.9,190.4 446.0,191.4 451.2,193.5 456.3,195.5 460.4,197.6 462.4,199.6 463.5,201.7"/>
<path d="M433.8,183.6 435.0,187.0 439.9,190.4"/>
<path d="M466.5,200.6 467.0,197.0 471.0,195.5 476.0,195.0"/>
<path d="M470.6,188.3 468.0,191.5 471.0,193.0 476.0,192.5 478.0,192.5"/>
<path d="M549.0,274.0 547.0,274.0"/>
<path d="M567.3,289.3 574.5,287.9 580.3,283.5 583.2,280.6"/>
</g>
<defs><pattern id="hatch" width="4" height="4" patternUnits="userSpaceOnUse" patternTransform="rotate(45)"><rect width="4" height="4" fill="#fafafa"/><line x1="0" y1="0" x2="0" y2="4" stroke="#ddd" stroke-width="1.6"/></pattern></defs>
<g stroke="#999" stroke-width="0.5">
<rect x="171.2" y="494" width="43.5" height="9.3" fill="url(#hatch)"/>
<line x1="192.5" y1="491.5" x2="192.5" y2="494"/>
</g>
<g stroke="#999" stroke-width="0.5">
<path d="M232.8,498.75 L237.3,494 L286.5,494 L286.5,503.5 L237.3,503.5 Z" fill="#ffffd4"/>
<rect x="286.5" y="494" width="54" height="9.5" fill="#fee391"/>
<rect x="340.5" y="494" width="53.9" height="9.5" fill="#fec44f"/>
<rect x="394.4" y="494" width="53.7" height="9.5" fill="#fe9929"/>
<rect x="448.1" y="494" width="53.1" height="9.5" fill="#ec7014"/>
<rect x="501.2" y="494" width="54" height="9.5" fill="#cc4c02"/>
<path d="M555.2,494 L604.2,494 L609.4,498.75 L604.2,503.5 L555.2,503.5 Z" fill="#8c2d04"/>
<line x1="286.5" y1="491.3" x2="286.5" y2="494"/><line x1="340.5" y1="491.3" x2="340.5" y2="494"/><line x1="394.4" y1="491.3" x2="394.4" y2="494"/>
<line x1="448.1" y1="491.3" x2="448.1" y2="494"/><line x1="501.2" y1="491.3" x2="501.2" y2="494"/><line x1="555.2" y1="491.3" x2="555.2" y2="494"/>
</g>
</svg>
<div class="t lg" style="left:170.8px;top:477.6px">No data</div>
<div class="t lg" style="left:279.5px;top:477.6px">15</div>
<div class="t lg" style="left:333.5px;top:477.6px">25</div>
<div class="t lg" style="left:387.4px;top:477.6px">30</div>
<div class="t lg" style="left:441.1px;top:477.6px">35</div>
<div class="t lg" style="left:494.2px;top:477.6px">40</div>
<div class="t lg" style="left:548.2px;top:477.6px">50</div>
<div class="t ft" style="left:15px;top:523.1px;letter-spacing:0.1px"><b style="letter-spacing:-0.35px">Data source:</b> United Nations, World Population Prospects (2022)</div>
<div class="t ft" style="left:550px;top:523.4px;letter-spacing:0.25px"><span style="text-decoration:underline">OurWorldInData.org/fertility-rate</span> | <span style="text-decoration:underline">CC BY</span></div>
</body></html>
